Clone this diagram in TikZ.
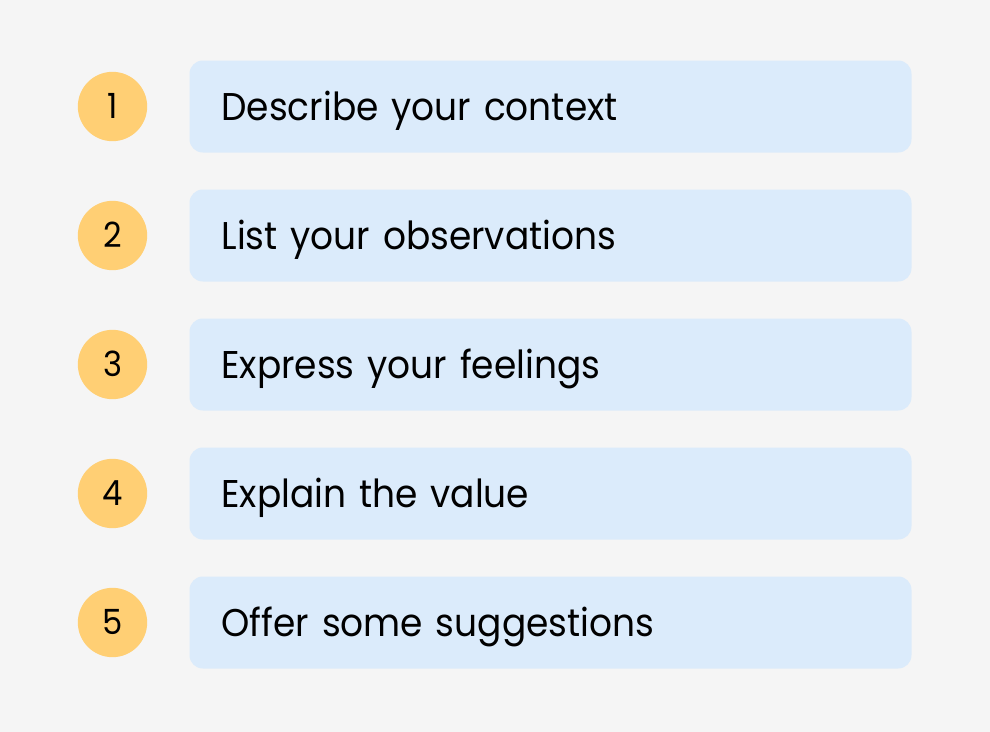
\documentclass[tikz,border=0pt]{standalone}
\usepackage{fontspec}
\setmainfont{Poppins}[FakeStretch=0.93]
\definecolor{pagebg}{HTML}{F5F5F5}
\definecolor{rowblue}{HTML}{DBEBFB}
\definecolor{dotyellow}{HTML}{FFCF74}
\tikzset{
  rowbox/.style={fill=rowblue, rounded corners=10pt, minimum width=541.5pt, minimum height=69pt,
    inner xsep=24pt, inner ysep=0pt, text width=493.5pt, align=left,
    font=\fontsize{29}{32}\selectfont, text height=20.5pt, text depth=0pt},
  numdot/.style={circle, fill=dotyellow, minimum size=52pt, inner sep=0pt,
    font=\fontsize{26}{30}\selectfont, text height=18.5pt, text depth=0pt}
}
\begin{document}
\begin{tikzpicture}[x=0.75pt,y=-0.75pt]
  \fill[pagebg](0,0) rectangle (990,732);
  \node[numdot](n1) at (112.5,106.5){1};
  \node[rowbox](r1) at (550.5,106.5){Describe your context};
  \node[numdot](n2) at (112.5,235.5){2};
  \node[rowbox](r2) at (550.5,235.5){List your observations};
  \node[numdot](n3) at (112.5,364.5){3};
  \node[rowbox](r3) at (550.5,364.5){Express your feelings};
  \node[numdot](n4) at (112.5,493.5){4};
  \node[rowbox](r4) at (550.5,493.5){Explain the value};
  \node[numdot](n5) at (112.5,622.5){5};
  \node[rowbox](r5) at (550.5,622.5){Offer some suggestions};
\end{tikzpicture}
\end{document}
